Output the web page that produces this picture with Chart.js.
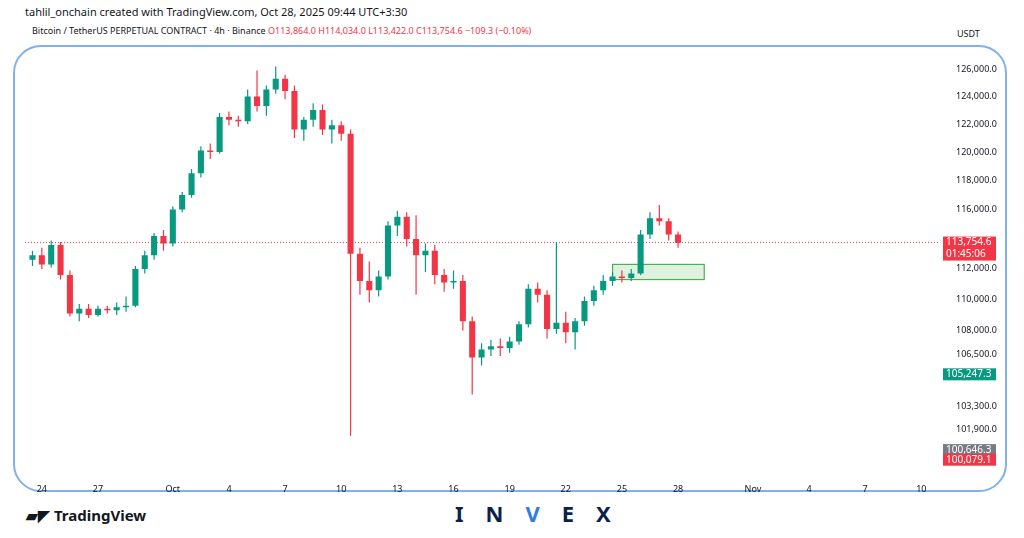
<!DOCTYPE html>
<html><head><meta charset="utf-8">
<script src="https://cdn.jsdelivr.net/npm/chart.js@4.4.0/dist/chart.umd.min.js"></script>
<style>
body{margin:0;width:1024px;height:538px;background:#fff;font-family:"Noto Sans",Arial,sans-serif;position:relative;overflow:hidden}
#frame{position:absolute;left:13px;top:45px;width:990px;height:443px;border:2px solid #7fb2ec;border-radius:28px}
#wrap{position:absolute;left:25px;top:26px;width:1000px;height:472px}
.t{position:absolute;white-space:nowrap}
</style></head><body>
<div id="frame"></div>
<div class="t" style="left:25px;top:4px;font-size:11px;color:#131722">tahlil_onchain created with TradingView.com, Oct 28, 2025 09:44 UTC+3:30</div>
<div class="t" style="left:32px;top:24px;font-size:9px;color:#131722">Bitcoin / TetherUS PERPETUAL CONTRACT · 4h · Binance <span style="color:#f23645">O113,864.0 H114,034.0 L113,422.0 C113,754.6 −109.3 (−0.10%)</span></div>
<div class="t" style="left:957px;top:27px;font-size:9px;color:#131722">USDT</div>
<div class="t" style="left:26px;top:505px;font-size:15px;font-weight:bold;color:#131722">▰◤ TradingView</div>
<div class="t" style="left:455px;top:498px;font-size:22px;font-weight:bold;letter-spacing:22px;color:#0c1f4d">IN<span style="color:#2f7de1">V</span>EX</div>
<div id="wrap"><canvas id="c"></canvas></div>
<script>
const days=[-0.5,0,0.5,1,1.5,2,2.5,3,3.5,4,4.5,5,5.5,6,6.5,7,7.5,8,8.5,9,9.5,10,10.5,11,11.5,12,12.5,13,13.5,14,14.5,15,15.5,16,16.5,17,17.5,18,18.5,19,19.5,20,20.5,21,21.5,22,22.5,23,23.5,24,24.5,25,25.5,26,26.5,27,27.5,28,28.5,29,29.5,30,30.5,31,31.5,32,32.5,33,33.5,34];
const opens=[112.6,112.9,112.3,113.6,111.6,109.1,109.4,109.0,109.4,109.3,109.5,109.6,112.0,112.9,114.2,113.7,116.0,117.0,118.5,120.1,120.0,122.5,122.3,122.2,124.0,123.3,124.5,125.3,124.4,121.6,122.3,123.0,121.6,121.9,121.3,113.0,111.2,110.6,111.5,114.9,115.5,114.0,112.9,113.2,111.6,111.1,111.2,108.6,106.3,106.8,107.0,106.9,107.3,108.4,110.7,110.3,108.1,108.5,107.9,108.6,109.9,110.6,111.2,111.5,111.4,111.7,114.3,115.4,115.2,114.3];
const highs=[113.2,113.4,113.9,113.8,111.9,109.7,109.7,109.6,109.6,109.8,110.2,112.2,113.2,114.4,114.6,116.2,117.2,118.8,120.4,120.6,122.8,122.9,122.6,124.5,125.9,124.8,126.2,125.6,124.8,122.5,123.5,123.4,122.3,122.2,121.6,113.4,112.5,111.9,115.2,115.9,115.8,115.6,113.7,113.6,112.0,111.9,111.6,108.9,107.2,107.4,107.5,107.6,108.6,111.0,111.1,110.6,113.8,109.2,108.8,110.2,110.9,111.6,111.8,111.9,112.0,114.6,115.8,116.3,115.4,114.5];
const lows=[112.2,112.0,112.1,111.3,108.9,108.6,108.8,108.9,109.1,109.0,109.2,109.5,111.7,112.6,113.2,113.5,115.8,116.8,118.2,119.5,119.9,121.9,121.8,122.0,122.9,122.6,124.2,123.8,121.0,120.8,121.8,121.2,120.6,120.8,101.5,110.3,109.8,110.2,111.3,114.2,113.5,110.3,111.8,111.0,110.5,110.7,108.0,104.0,105.8,106.4,106.4,106.6,107.1,108.2,109.8,107.5,107.8,107.2,106.8,108.3,109.6,110.3,110.9,111.1,111.2,111.6,114.0,114.9,113.9,113.4];
const closes=[112.9,112.3,113.6,111.6,109.1,109.4,109.0,109.4,109.3,109.5,109.6,112.0,112.9,114.2,113.7,116.0,117.0,118.5,120.1,120.0,122.5,122.3,122.2,124.0,123.3,124.5,125.3,124.4,121.6,122.3,123.0,121.6,121.9,121.3,113.0,111.2,110.6,111.5,114.9,115.5,114.0,112.9,113.2,111.6,111.1,111.2,108.6,106.3,106.8,107.0,106.9,107.3,108.4,110.7,110.3,108.1,108.5,107.9,108.6,109.9,110.6,111.2,111.5,111.4,111.7,114.3,115.4,115.2,114.3,113.75];
const xTickDays=[0,3,7,10,13,16,19,22,25,28,31,34,38,41,44,47];
const xTickLabels=['24','27','Oct','4','7','10','13','16','19','22','25','28','Nov','4','7','10'];
const yTicks=[126000,124000,122000,120000,118000,116000,112000,110000,108000,106500,103300,101900];
const boxDays=[30.5,35.4], boxPrices=[111300,112300];
const tags=[[113754.6,'113,754.6','#f23645'],[105247.3,'105,247.3','#089981'],[100646.3,'100,646.3','#787b86'],[100079.1,'100,079.1','#f23645']];
const UP='#089981',DN='#f23645';
const K=v=>v*1000;
const col=i=>closes[i]>=opens[i]?UP:DN;
const bodies=days.map((d,i)=>({x:d,y:[K(opens[i]),K(closes[i])]}));
const wicks=days.map((d,i)=>({x:d,y:[K(lows[i]),K(highs[i])]}));
const overlay={id:'ov',
 beforeDatasetsDraw(ch){const {ctx,scales:{x,y},chartArea:a}=ch;
  const x0=x.getPixelForValue(boxDays[0]),x1=x.getPixelForValue(boxDays[1]),y0=y.getPixelForValue(boxPrices[1]),y1=y.getPixelForValue(boxPrices[0]);
  ctx.save();ctx.fillStyle='rgba(76,175,80,0.18)';ctx.strokeStyle='#4caf50';ctx.lineWidth=1.2;ctx.fillRect(x0,y0,x1-x0,y1-y0);ctx.strokeRect(x0,y0,x1-x0,y1-y0);
  const py=y.getPixelForValue(tags[0][0]);ctx.strokeStyle=DN;ctx.setLineDash([1,2]);ctx.lineWidth=1;ctx.beginPath();ctx.moveTo(a.left,py);ctx.lineTo(a.right,py);ctx.stroke();ctx.restore();},
 afterDraw(ch){const {ctx,scales:{y},chartArea:a}=ch;ctx.save();ctx.font='10px "Noto Sans"';ctx.textBaseline='middle';
  tags.forEach((t,i)=>{const py=y.getPixelForValue(t[0]);const h=i==0?24:12;const top=py-6;
   ctx.fillStyle=t[2];ctx.fillRect(a.right+3,top,53,h);ctx.fillStyle='#fff';ctx.fillText(t[1],a.right+6,py);
   if(i==0)ctx.fillText('01:45:06',a.right+6,py+12);});
  ctx.restore();}};
new Chart(document.getElementById('c'),{type:'bar',
 data:{datasets:[
  {data:wicks,backgroundColor:wicks.map((_,i)=>col(i)),maxBarThickness:1.2,barPercentage:0.15,categoryPercentage:1,grouped:false},
  {data:bodies,backgroundColor:bodies.map((_,i)=>col(i)),barPercentage:0.65,categoryPercentage:1,grouped:false,minBarLength:1}]},
 options:{responsive:true,maintainAspectRatio:false,animation:false,
  plugins:{legend:{display:false},tooltip:{enabled:false}},
  layout:{padding:0},
  scales:{
   x:{type:'linear',min:-0.9,max:48,offset:false,grid:{display:false},border:{display:false},
    afterBuildTicks:s=>{s.ticks=xTickDays.map(v=>({value:v}));},
    afterFit:s=>{s.height=30;},
    ticks:{autoSkip:false,maxRotation:0,color:'#131722',font:{size:9,family:'Noto Sans'},padding:8,callback:v=>xTickLabels[xTickDays.indexOf(v)]}},
   y:{type:'logarithmic',position:'right',min:99590,max:128240,grid:{display:false},border:{display:false},
    afterBuildTicks:s=>{s.ticks=yTicks.map(v=>({value:v}));},
    afterFit:s=>{s.width=85;},
    ticks:{autoSkip:false,color:'#131722',font:{size:9,family:'Noto Sans'},padding:8,callback:v=>v.toLocaleString('en-US')+'.0'}}}},
 plugins:[overlay]});
</script></body></html>
